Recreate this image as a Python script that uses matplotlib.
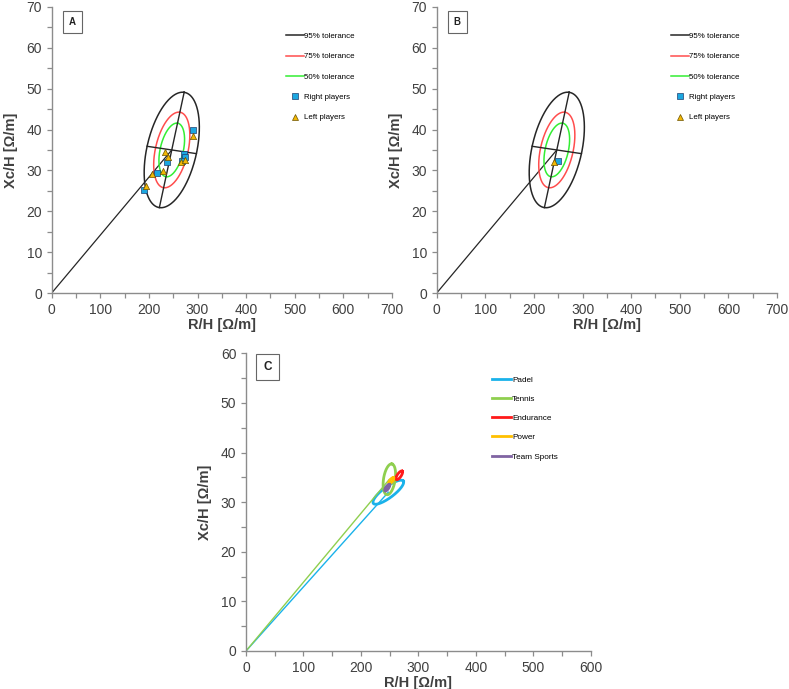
import numpy as np
import matplotlib
matplotlib.use("Agg")
import matplotlib.pyplot as plt
from matplotlib.ticker import MultipleLocator
from matplotlib.lines import Line2D

plt.rcParams['font.family'] = ['Liberation Sans', 'DejaVu Sans']

# ---------------- data ----------------
# Panel A: padel players
right_A_x = [291.6, 272.0, 275.0, 237.0, 216.0, 189.5, 268.0]
right_A_y = [39.9, 34.0, 33.3, 32.1, 29.3, 25.2, 32.3]
left_A_x = [290.0, 234.0, 239.5, 266.0, 273.7, 229.0, 206.6, 193.6]
left_A_y = [38.5, 34.6, 33.3, 32.0, 32.5, 29.9, 29.2, 26.2]

# Panel B: mean vectors
right_B_x = [248.6]
right_B_y = [32.2]
left_B_x = [241.5]
left_B_y = [32.0]

# Tolerance ellipse (reference population) : centre, half major / minor axis vectors
tol_center = (247.0, 35.0)
tol_major = (25.5, 14.1)
tol_minor = (50.7, -0.9)
tol_labels = ["95% tolerance", "75% tolerance", "50% tolerance"]
tol_scale = [1.0, 0.655, 0.465]
tol_colors = ["#262626", "#ff4d4d", "#33ee33"]

# Panel C: confidence ellipses by sport
sports = ["Padel", "Tennis", "Endurance", "Power", "Team Sports"]
sport_cx = [247.7, 249.5, 266.7, 252.7, 245.8]
sport_cy = [32.0, 34.6, 35.4, 34.3, 32.9]
sport_major = [(26.1, 2.25), (4.3, 3.1), (5.2, 0.85), (4.0, 0.62), (4.0, 0.65)]
sport_minor = [(5.6, -0.9), (10.0, -0.2), (2.6, -0.25), (2.0, -0.18), (2.0, -0.18)]
sport_colors = ["#1ab2ea", "#8fcf4f", "#ff1a1a", "#ffc000", "#8064a2"]
sport_line_from_origin = [True, True, False, False, False]

# ---------------- helpers ----------------
t = np.linspace(0, 2 * np.pi, 300)


def ellipse(c, a, b, s=1.0):
    x = c[0] + s * (a[0] * np.cos(t) + b[0] * np.sin(t))
    y = c[1] + s * (a[1] * np.cos(t) + b[1] * np.sin(t))
    return x, y


def style_axes(ax, xmax, ymax):
    ax.set_xlim(0, xmax)
    ax.set_ylim(0, ymax)
    for s in ["top", "right"]:
        ax.spines[s].set_visible(False)
    for s in ["left", "bottom"]:
        ax.spines[s].set_color("#8c8c8c")
        ax.spines[s].set_linewidth(1.0)
    ax.xaxis.set_major_locator(MultipleLocator(100))
    ax.xaxis.set_minor_locator(MultipleLocator(50))
    ax.yaxis.set_major_locator(MultipleLocator(10))
    ax.yaxis.set_minor_locator(MultipleLocator(5))
    ax.tick_params(which="both", direction="out", color="#8c8c8c", length=3.5,
                   width=0.9, labelsize=10, labelcolor="#404040")
    ax.set_xlabel("R/H [Ω/m]", fontsize=10.5, fontweight="bold", color="#404040", labelpad=1)
    ax.set_ylabel("Xc/H [Ω/m]", fontsize=10.5, fontweight="bold", color="#404040", labelpad=6)


def panel_label(ax, text, fs, pad, x, y):
    ax.text(x, y, text, transform=ax.transAxes, fontsize=fs, fontweight="bold",
            ha="left", va="top", color="#222222",
            bbox=dict(boxstyle="square,pad=%s" % pad, fc="white", ec="#666666", lw=0.8))


def tolerance_panel(ax, rx, ry, lx, ly, label):
    style_axes(ax, 700, 70)
    # line from origin to centre
    ax.plot([0, tol_center[0]], [0, tol_center[1]], color="#262626", lw=0.9)
    handles = []
    for lab, sc, col in zip(tol_labels, tol_scale, tol_colors):
        ex, ey = ellipse(tol_center, tol_major, tol_minor, sc)
        ax.plot(ex, ey, color=col, lw=1.1)
        handles.append(Line2D([0], [0], color=col, lw=1.1, label=lab))
    # axes of the 95% ellipse
    cx, cy = tol_center
    ax.plot([cx - tol_major[0], cx + tol_major[0]], [cy - tol_major[1], cy + tol_major[1]],
            color="#262626", lw=1.0)
    ax.plot([cx - tol_minor[0], cx + tol_minor[0]], [cy - tol_minor[1], cy + tol_minor[1]],
            color="#262626", lw=1.0)
    ax.scatter(rx, ry, marker="s", s=16, c="#1ca7e0", edgecolors="#1f3f6e", linewidths=0.5, zorder=5)
    ax.scatter(lx, ly, marker="^", s=20, c="#f2b705", edgecolors="#6b5200", linewidths=0.5, zorder=6)
    handles.append(Line2D([0], [0], marker="s", ls="", ms=4, mfc="#1ca7e0", mec="#1f3f6e",
                          mew=0.5, label="Right players"))
    handles.append(Line2D([0], [0], marker="^", ls="", ms=4.5, mfc="#f2b705", mec="#6b5200",
                          mew=0.5, label="Left players"))
    ax.legend(handles=handles, loc="upper left", bbox_to_anchor=(0.68, 0.922), frameon=False,
              fontsize=5.7, handlelength=2.2, handletextpad=0.1, labelspacing=1.62,
              borderaxespad=0)
    panel_label(ax, label, 7, 0.6, 0.05, 0.965)


# ---------------- figure ----------------
fig = plt.figure(figsize=(7.89, 6.89), dpi=100)

axA = fig.add_axes([0.0655, 0.5747, 0.4313, 0.4153])
tolerance_panel(axA, right_A_x, right_A_y, left_A_x, left_A_y, "A")

axB = fig.add_axes([0.5535, 0.5747, 0.4313, 0.4153])
tolerance_panel(axB, right_B_x, right_B_y, left_B_x, left_B_y, "B")

axC = fig.add_axes([0.3118, 0.0552, 0.4369, 0.4320])
style_axes(axC, 600, 60)
handlesC = []
for name, cx, cy, ma, mi, col, lo in zip(sports, sport_cx, sport_cy, sport_major, sport_minor,
                                         sport_colors, sport_line_from_origin):
    if lo:
        axC.plot([0, cx], [0, cy], color=col, lw=1.0)
    ex, ey = ellipse((cx, cy), ma, mi)
    axC.plot(ex, ey, color=col, lw=2.0)
    handlesC.append(Line2D([0], [0], color=col, lw=2.0, label=name))
axC.legend(handles=handlesC, loc="upper left", bbox_to_anchor=(0.705, 0.935), frameon=False,
           fontsize=5.9, handlelength=2.3, handletextpad=0.1, labelspacing=1.4, borderaxespad=0)
panel_label(axC, "C", 8.5, 0.6, 0.05, 0.975)

fig.savefig("out.png", dpi=100)
